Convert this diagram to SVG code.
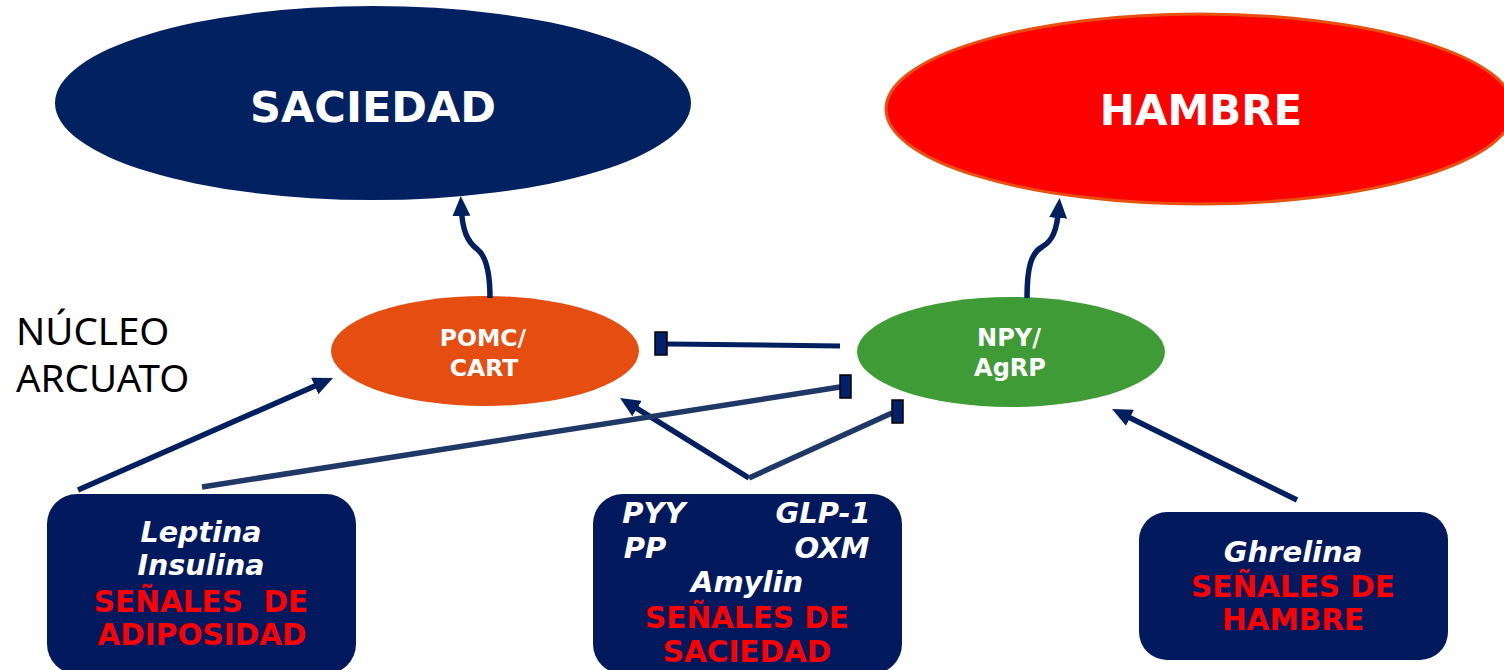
<svg xmlns="http://www.w3.org/2000/svg" width="1504" height="670" viewBox="0 0 1504 670">
<defs>
<style>
.t{font-family:"DejaVu Sans","Verdana",sans-serif;font-weight:bold;text-anchor:middle}
.w{fill:#ffffff}
.wi{fill:#ffffff;font-style:italic}
.r{fill:#ff0000}
.box{fill:#03195e}
.arrow{fill:none;stroke:#02205f;stroke-width:5.5;marker-end:url(#arr)}
.inh{fill:none;stroke:#1f3866;stroke-width:5.5}
.inh2{fill:none;stroke:#02205f;stroke-width:5}
.bar{fill:#03206a;stroke:#000;stroke-width:1.5}
</style>
<marker id="arr" markerUnits="userSpaceOnUse" markerWidth="20" markerHeight="18" viewBox="0 0 20 18" refX="12" refY="9" orient="auto">
<path d="M0,0 L20,9 L0,18 z" fill="#02205f"/>
</marker>
</defs>
<rect width="1504" height="670" fill="#ffffff"/>

<g id="saciedad">
<ellipse cx="373" cy="103" rx="318" ry="97" fill="#022160"/>
<text class="t w" x="373" y="122" font-size="43">SACIEDAD</text>
</g>

<g id="hambre">
<ellipse cx="1200" cy="109" rx="314" ry="95" fill="#ff0000" stroke="#e8500f" stroke-width="3"/>
<text class="t w" x="1201" y="125" font-size="42">HAMBRE</text>
</g>

<g id="nucleo">
<text font-family="Noto Sans, DejaVu Sans, sans-serif" font-size="38.5" fill="#000"><tspan x="16" y="345">NÚCLEO</tspan><tspan x="16" y="392">ARCUATO</tspan></text>
</g>

<g id="pomc">
<ellipse cx="485" cy="351" rx="154" ry="55" fill="#e64d10"/>
<text class="t w" x="483" y="346" font-size="23.5">POMC/</text>
<text class="t w" x="484" y="376" font-size="23.5">CART</text>
</g>

<g id="npy">
<ellipse cx="1011" cy="352" rx="154" ry="55" fill="#3f9b36"/>
<text class="t w" x="1009" y="346" font-size="24">NPY/</text>
<text class="t w" x="1010" y="376" font-size="24">AgRP</text>
</g>

<g id="connectors">
<path class="arrow" d="M490,298 C490,268 485,255 477,249 C468,242 462,232 461,204"/>
<path class="arrow" d="M1027,298 C1027,268 1031,253 1042,247 C1052,241 1057,232 1059,206"/>
<path class="arrow" d="M78,490 L325.7,381.2"/>
<path class="arrow" d="M749,478 L626.8,402.2"/>
<path class="arrow" d="M1297,500 L1119.2,412.5"/>
<path class="inh2" d="M840,346 L667,344"/>
<rect class="bar" x="655" y="332" width="12" height="23"/>
<path class="inh" d="M202,487 L840,387"/>
<rect class="bar" x="840" y="375" width="11" height="23"/>
<path class="inh" d="M749,478 L892,413"/>
<rect class="bar" x="892" y="400" width="11" height="23"/>
</g>

<g id="box-adiposidad">
<rect class="box" x="47" y="494" width="309" height="180" rx="30"/>
<text class="t wi" x="201" y="542" font-size="28.5">Leptina</text>
<text class="t wi" x="201" y="575" font-size="28.5">Insulina</text>
<text class="t r" x="201" y="612" font-size="29.5" xml:space="preserve">SEÑALES  DE</text>
<text class="t r" x="202" y="645" font-size="29.5">ADIPOSIDAD</text>
</g>

<g id="box-saciedad">
<rect class="box" x="593" y="494" width="309" height="180" rx="30"/>
<text class="t wi" x="654" y="523" font-size="29">PYY</text>
<text class="t wi" x="823" y="523" font-size="29">GLP-1</text>
<text class="t wi" x="645" y="558" font-size="29">PP</text>
<text class="t wi" x="832" y="558" font-size="29">OXM</text>
<text class="t wi" x="747" y="592" font-size="29">Amylin</text>
<text class="t r" x="747" y="628" font-size="29.5">SEÑALES DE</text>
<text class="t r" x="747" y="662" font-size="29.5">SACIEDAD</text>
</g>

<g id="box-hambre">
<rect class="box" x="1139" y="512" width="309" height="148" rx="28"/>
<text class="t wi" x="1293" y="562" font-size="29">Ghrelina</text>
<text class="t r" x="1293" y="597" font-size="29.5">SEÑALES DE</text>
<text class="t r" x="1293" y="630" font-size="29.5">HAMBRE</text>
</g>
</svg>
